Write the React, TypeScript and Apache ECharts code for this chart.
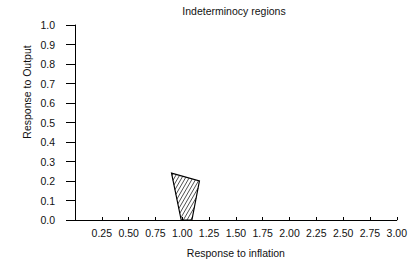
import React, { useEffect, useRef } from "react";
import * as echarts from "echarts";

const title = "Indeterminocy regions";
const xName = "Response to inflation";
const yName = "Response to Output";
const regionX = [0.9, 1.16, 1.09, 0.99];
const regionY = [0.24, 0.2, 0.0, 0.0];

const FONT = "'Liberation Sans Narrow', 'Arial Narrow', 'Liberation Sans', sans-serif";
const FS = 10.5;

function hatch(pts: number[][], angleDeg: number, spacing: number) {
  const a = (angleDeg * Math.PI) / 180;
  const d = [Math.cos(a), -Math.sin(a)];
  const n = [Math.sin(a), Math.cos(a)];
  const proj = pts.map((p) => p[0] * n[0] + p[1] * n[1]);
  const cmin = Math.min(...proj);
  const cmax = Math.max(...proj);
  const segs: number[][][] = [];
  for (let c = cmin + spacing / 2; c < cmax; c += spacing) {
    const hits: number[][] = [];
    for (let i = 0; i < pts.length; i++) {
      const p = pts[i];
      const q = pts[(i + 1) % pts.length];
      const fp = proj[i] - c;
      const fq = proj[(i + 1) % pts.length] - c;
      if ((fp <= 0 && fq > 0) || (fp > 0 && fq <= 0)) {
        const t = fp / (fp - fq);
        hits.push([p[0] + t * (q[0] - p[0]), p[1] + t * (q[1] - p[1])]);
      }
    }
    hits.sort((u, v) => u[0] * d[0] + u[1] * d[1] - (v[0] * d[0] + v[1] * d[1]));
    for (let k = 0; k + 1 < hits.length; k += 2) segs.push([hits[k], hits[k + 1]]);
  }
  return segs;
}

export default function App() {
  const ref = useRef<HTMLDivElement>(null);
  useEffect(() => {
    if (!ref.current) return;
    const chart = echarts.init(ref.current, null, { renderer: "svg" });
    const data = regionX.map((x, i) => [x, regionY[i]]);
    chart.setOption({
      animation: false,
      backgroundColor: "#fff",
      graphic: [
        {
          type: "text",
          x: 234,
          y: 11,
          style: {
            text: title,
            fontFamily: FONT,
            fontSize: FS,
            fill: "#111",
            align: "center",
            verticalAlign: "middle",
          },
        },
        {
          type: "text",
          x: 27,
          y: 92,
          rotation: Math.PI / 2,
          style: {
            text: yName,
            fontFamily: FONT,
            fontSize: FS,
            fill: "#111",
            align: "center",
            verticalAlign: "middle",
          },
        },
      ],
      grid: { left: 75, right: 10, top: 25, bottom: 43 },
      xAxis: {
        type: "value",
        min: 0,
        max: 3,
        interval: 0.25,
        name: xName,
        nameLocation: "middle",
        nameGap: 27,
        nameTextStyle: { fontFamily: FONT, fontSize: FS, color: "#111" },
        axisLine: { lineStyle: { color: "#000", width: 1 } },
        axisTick: { inside: true, length: 3, lineStyle: { color: "#000" } },
        splitLine: { show: false },
        axisLabel: {
          fontFamily: FONT,
          fontSize: FS,
          color: "#111",
          margin: 7,
          formatter: (v: number) => (v === 0 ? "" : v.toFixed(2)),
        },
      },
      yAxis: {
        type: "value",
        min: 0,
        max: 1,
        interval: 0.1,
        offset: 2,
        axisLine: { show: true, lineStyle: { color: "#000", width: 1 } },
        axisTick: { show: true, length: 9, lineStyle: { color: "#000" } },
        splitLine: { show: false },
        axisLabel: {
          fontFamily: FONT,
          fontSize: FS,
          color: "#111",
          margin: 18,
          formatter: (v: number) => v.toFixed(1),
        },
      },
      series: [
        {
          type: "custom",
          coordinateSystem: "cartesian2d",
          data: [0],
          renderItem: (params: any, api: any) => {
            const pts = data.map((p) => api.coord(p));
            const segs = hatch(pts, 60, 3.2);
            const children: any[] = segs.map((s) => ({
              type: "line",
              shape: { x1: s[0][0], y1: s[0][1], x2: s[1][0], y2: s[1][1] },
              style: { stroke: "#222", lineWidth: 0.8 },
            }));
            children.push({
              type: "polygon",
              shape: { points: pts },
              style: { fill: "none", stroke: "#000", lineWidth: 1.2 },
            });
            return { type: "group", children };
          },
        },
      ],
    });
    return () => chart.dispose();
  }, []);
  return (
    <div
      ref={ref}
      style={{ position: "absolute", left: 0, top: 0, width: 410, height: 263 }}
    />
  );
}
